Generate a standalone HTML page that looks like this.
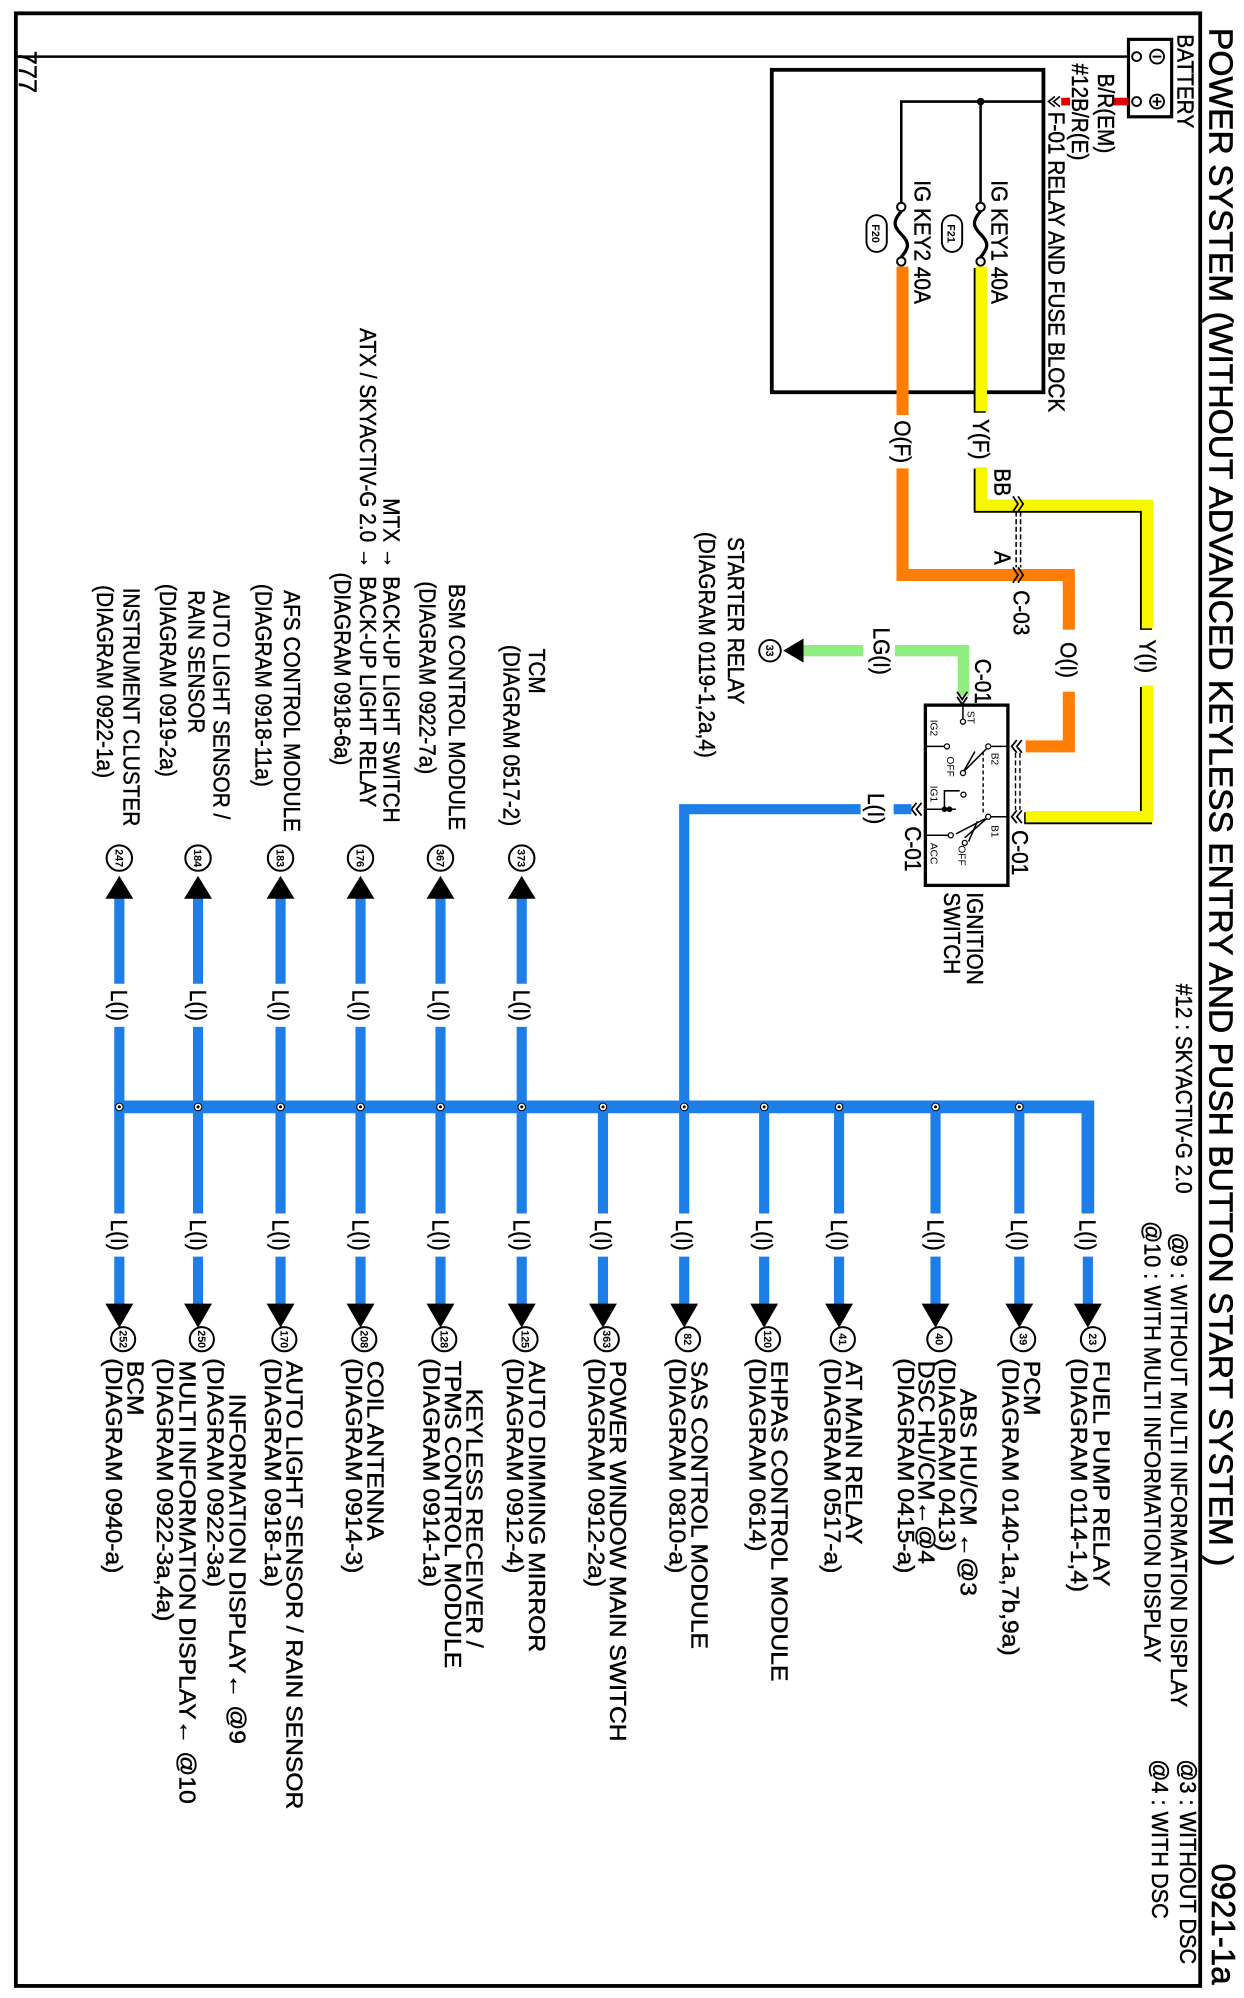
<!DOCTYPE html>
<html><head><meta charset="utf-8"><style>
html,body{margin:0;padding:0;background:#fff;}
svg{display:block;}
.t{font-family:"Liberation Sans",Arial,sans-serif;font-size:18px;fill:#000;stroke:#000;stroke-width:0.35px;}
.s{font-family:"Liberation Sans",Arial,sans-serif;font-size:8px;fill:#000;}
.n{font-family:"Liberation Sans",Arial,sans-serif;font-size:8.5px;font-weight:bold;fill:#000;}
</style></head><body>
<svg width="1244" height="1998" viewBox="0 0 980 1574" xmlns="http://www.w3.org/2000/svg">
<rect x="0" y="0" width="980" height="1574" fill="#fff"/>
<rect x="12.5" y="10.5" width="933" height="1554" fill="none" stroke="#000" stroke-width="3"/>
<text class="t" style="font-size:26px;stroke-width:0.5px" transform="translate(952.7,22) rotate(90)" textLength="1212" lengthAdjust="spacingAndGlyphs">POWER SYSTEM (WITHOUT ADVANCED KEYLESS ENTRY AND PUSH BUTTON START SYSTEM )</text>
<text class="t" style="font-size:26px;stroke-width:0.5px" transform="translate(954.7,1468) rotate(90)">0921-1a</text>
<text class="t" style="font-size:20px" transform="translate(15,40) rotate(90)">777</text>

<line x1="12" y1="44.6" x2="891" y2="44.6" stroke="#000" stroke-width="2"/>
<rect x="889" y="31" width="34" height="61" fill="#fff" stroke="#000" stroke-width="2.5"/>
<circle cx="895.4" cy="44.6" r="3.5" fill="#fff" stroke="#000" stroke-width="1.5"/>
<circle cx="895.4" cy="80" r="3.5" fill="#fff" stroke="#000" stroke-width="1.5"/>
<circle cx="911.5" cy="44.6" r="5.5" fill="#fff" stroke="#000" stroke-width="1.5"/>
<line x1="908" y1="44.6" x2="915" y2="44.6" stroke="#000" stroke-width="1.5"/>
<circle cx="911.5" cy="80" r="5.5" fill="#fff" stroke="#000" stroke-width="1.5"/>
<line x1="908" y1="80" x2="915" y2="80" stroke="#000" stroke-width="1.5"/>
<line x1="911.5" y1="76.5" x2="911.5" y2="83.5" stroke="#000" stroke-width="1.5"/>
<text class="t" transform="translate(927.6,27) rotate(90) scale(.91,1)">BATTERY</text>
<rect x="877" y="77" width="12" height="6" fill="#e00000"/>
<rect x="836" y="77" width="7" height="6" fill="#e00000"/>
<polyline points="831,76 826,80 831,84" fill="none" stroke="#000" stroke-width="1.3"/>
<polyline points="835,76 830,80 835,84" fill="none" stroke="#000" stroke-width="1.3"/>
<text class="t" transform="translate(865.1,58) rotate(90) scale(.91,1)">B/R(EM)</text>
<text class="t" transform="translate(844.6,50) rotate(90) scale(.91,1)">#12B/R(E)</text>
<text class="t" transform="translate(826.1,88) rotate(90) scale(.91,1)">F-01  RELAY AND FUSE BLOCK</text>

<rect x="608" y="55" width="214" height="254" fill="none" stroke="#000" stroke-width="3"/>
<polyline points="822,80 710,80 710,160" fill="none" stroke="#000" stroke-width="2"/>
<line x1="772.5" y1="80" x2="772.5" y2="160" stroke="#000" stroke-width="2"/>
<circle cx="772.5" cy="80" r="3" fill="#000"/>
<circle cx="772.5" cy="163" r="3.3" fill="#fff" stroke="#000" stroke-width="1.6"/>
<circle cx="772.5" cy="206" r="3.3" fill="#fff" stroke="#000" stroke-width="1.6"/>
<path d="M772.5,166.5 C766,174 766,178 772.5,184.5 C779,191 779,195 772.5,202.5" fill="none" stroke="#000" stroke-width="2.6"/>
<circle cx="710" cy="163" r="3.3" fill="#fff" stroke="#000" stroke-width="1.6"/>
<circle cx="710" cy="206" r="3.3" fill="#fff" stroke="#000" stroke-width="1.6"/>
<path d="M710,166.5 C703.5,174 703.5,178 710,184.5 C716.5,191 716.5,195 710,202.5" fill="none" stroke="#000" stroke-width="2.6"/>
<rect x="742" y="169.5" width="16" height="29" rx="8" fill="#fff" stroke="#000" stroke-width="1.5"/>
<text class="n" transform="translate(746.5,184) rotate(90)" text-anchor="middle">F21</text>
<rect x="682.6" y="169.5" width="16" height="29" rx="8" fill="#fff" stroke="#000" stroke-width="1.5"/>
<text class="n" transform="translate(687.1,184) rotate(90)" text-anchor="middle">F20</text>
<text class="t" transform="translate(781.1,142) rotate(90) scale(.91,1)">IG KEY1 40A</text>
<text class="t" transform="translate(720.6,142) rotate(90) scale(.91,1)">IG KEY2 40A</text>

<g transform="translate(-1.2,1.2)" fill="none" stroke="#000" stroke-width="9.5">
<path d="M773,210 V324"/><path d="M773,368 V398 H904 V495"/><path d="M904,540 V643.4 H808"/>
</g>
<g fill="none" stroke="#f7f700" stroke-width="9" stroke-linejoin="miter">
<path d="M773,210 V324"/><path d="M773,368 V398 H904 V495"/><path d="M904,540 V643.4 H808"/>
</g>
<g fill="none" stroke="#ff7d00" stroke-width="9.5">
<path d="M711,210 V327"/><path d="M711,369 V453 H842 V496"/><path d="M842,545 V588 H808"/>
</g>
<text class="t" transform="translate(766.6,346) rotate(90) scale(.91,1)" text-anchor="middle">Y(F)</text>
<text class="t" transform="translate(704.6,348) rotate(90) scale(.91,1)" text-anchor="middle">O(F)</text>
<text class="t" transform="translate(897.6,517) rotate(90) scale(.91,1)" text-anchor="middle">Y(I)</text>
<text class="t" transform="translate(835.6,520) rotate(90) scale(.91,1)" text-anchor="middle">O(I)</text>
<polyline points="798,391 802,397 798,403" fill="none" stroke="#000" stroke-width="1.4"/>
<polyline points="802,391 806,397 802,403" fill="none" stroke="#000" stroke-width="1.4"/>
<polyline points="798,447 802,453 798,459" fill="none" stroke="#000" stroke-width="1.4"/>
<polyline points="802,447 806,453 802,459" fill="none" stroke="#000" stroke-width="1.4"/>
<line x1="800.5" y1="403" x2="800.5" y2="447" stroke="#000" stroke-width="1.2" stroke-dasharray="4,2"/>
<line x1="804" y1="403" x2="804" y2="447" stroke="#000" stroke-width="1.2" stroke-dasharray="4,2"/>
<text class="t" transform="translate(783.6,369) rotate(90) scale(.91,1)">BB</text>
<text class="t" transform="translate(783.6,434) rotate(90) scale(.91,1)">A</text>
<text class="t" transform="translate(798.6,465) rotate(90) scale(.91,1)">C-03</text>

<g fill="none" stroke="#90ee80" stroke-width="9">
<path d="M759,548 V512.6 H705"/><path d="M680,512.6 H632"/>
</g>
<polygon points="633,503 633,522 617,512.6" fill="#000"/>
<circle cx="606.6" cy="512.6" r="8.5" fill="#fff" stroke="#000" stroke-width="1.5"/>
<text class="n" transform="translate(603.4,512.6) rotate(90)" text-anchor="middle">33</text>
<text class="t" transform="translate(688.1,513) rotate(90) scale(.91,1)" text-anchor="middle">LG(I)</text>
<text class="t" transform="translate(573.6,423) rotate(90) scale(.91,1)">STARTER RELAY</text>
<text class="t" transform="translate(550.6,419) rotate(90) scale(.91,1)">(DIAGRAM  0119-1,2a,4)</text>

<rect x="729" y="555.5" width="65" height="142" fill="#fff" stroke="#000" stroke-width="2.6"/>
<polyline points="754,545 758,551 762,545" fill="none" stroke="#000" stroke-width="1.4"/>
<polyline points="754,549 758,555 762,549" fill="none" stroke="#000" stroke-width="1.4"/>
<line x1="758.6" y1="556" x2="758.6" y2="566" stroke="#000" stroke-width="1.2"/>
<circle cx="758.6" cy="568.5" r="2" fill="#fff" stroke="#000" stroke-width="1"/>
<text class="s" transform="translate(762,560) rotate(90)">ST</text>
<text class="s" transform="translate(733,567) rotate(90)">IG2</text>
<line x1="730" y1="588" x2="744" y2="588" stroke="#000" stroke-width="1.2"/>
<circle cx="746" cy="588" r="2" fill="#fff" stroke="#000" stroke-width="1"/>
<line x1="794" y1="588" x2="780.5" y2="588" stroke="#000" stroke-width="1.2"/>
<circle cx="778.5" cy="588" r="2" fill="#fff" stroke="#000" stroke-width="1"/>
<line x1="777" y1="590" x2="759" y2="608" stroke="#000" stroke-width="1.2"/>
<line x1="768" y1="592" x2="759" y2="608" stroke="#000" stroke-width="1.2"/>
<circle cx="758.6" cy="609" r="2" fill="#fff" stroke="#000" stroke-width="1"/>
<text class="s" transform="translate(781,593) rotate(90)">B2</text>
<text class="s" transform="translate(746,596) rotate(90)">OFF</text>
<line x1="774.5" y1="592" x2="774.5" y2="641" stroke="#000" stroke-width="1.1" stroke-dasharray="3,2"/>
<text class="s" transform="translate(733,619) rotate(90)">IG1</text>
<polyline points="744,636 744,623 756,623" fill="none" stroke="#000" stroke-width="1.2"/>
<circle cx="759" cy="626" r="2" fill="#fff" stroke="#000" stroke-width="1"/>
<line x1="730" y1="637.5" x2="753" y2="637.5" stroke="#000" stroke-width="1.2"/>
<circle cx="744" cy="637.5" r="2.2" fill="#000"/>
<circle cx="748" cy="637.5" r="2.2" fill="#000"/>
<line x1="794" y1="643.4" x2="780.5" y2="643.4" stroke="#000" stroke-width="1.2"/>
<circle cx="778.5" cy="643.4" r="2" fill="#fff" stroke="#000" stroke-width="1"/>
<line x1="777" y1="645" x2="760" y2="660" stroke="#000" stroke-width="1.2"/>
<line x1="776" y1="645" x2="753" y2="657" stroke="#000" stroke-width="1.2"/>
<line x1="770" y1="647" x2="763" y2="663" stroke="#000" stroke-width="1.2"/>
<text class="s" transform="translate(781,650) rotate(90)">B1</text>
<line x1="730" y1="658" x2="747" y2="658" stroke="#000" stroke-width="1.2"/>
<circle cx="749" cy="658" r="2" fill="#fff" stroke="#000" stroke-width="1"/>
<circle cx="760" cy="664" r="2" fill="#fff" stroke="#000" stroke-width="1"/>
<text class="s" transform="translate(733,664) rotate(90)">ACC</text>
<text class="s" transform="translate(755,666) rotate(90)">OFF</text>
<polyline points="801,583 797,588 801,593" fill="none" stroke="#000" stroke-width="1.4"/>
<polyline points="805,583 801,588 805,593" fill="none" stroke="#000" stroke-width="1.4"/>
<polyline points="801,638.4 797,643.4 801,648.4" fill="none" stroke="#000" stroke-width="1.4"/>
<polyline points="805,638.4 801,643.4 805,648.4" fill="none" stroke="#000" stroke-width="1.4"/>
<line x1="800" y1="593" x2="800" y2="638" stroke="#000" stroke-width="1.1" stroke-dasharray="4,2"/>
<line x1="803.5" y1="593" x2="803.5" y2="638" stroke="#000" stroke-width="1.1" stroke-dasharray="4,2"/>
<polyline points="722,632.5 718,637.5 722,642.5" fill="none" stroke="#000" stroke-width="1.4"/>
<polyline points="726,632.5 722,637.5 726,642.5" fill="none" stroke="#000" stroke-width="1.4"/>
<text class="t" transform="translate(768.2,519) rotate(90) scale(.91,1)">C-01</text>
<text class="t" transform="translate(797.2,654) rotate(90) scale(.91,1)">C-01</text>
<text class="t" transform="translate(713.1,651) rotate(90) scale(.91,1)">C-01</text>
<text class="t" transform="translate(761.6,703) rotate(90) scale(.91,1)">IGNITION</text>
<text class="t" transform="translate(743.6,703) rotate(90) scale(.91,1)">SWITCH</text>

<g fill="none" stroke="#1e7ee8">
<path d="M718,637.5 H704" stroke-width="8"/>
<path d="M678,637.5 H539 V872" stroke-width="8"/>
<path d="M90,872 H857 V956" stroke-width="10"/>
</g>
<text class="t" transform="translate(683.6,637) rotate(90) scale(.91,1)" text-anchor="middle">L(I)</text>

<text class="t" transform="translate(926.6,775) rotate(90) scale(.91,1)">#12 : SKYACTIV-G 2.0</text>
<text class="t" transform="translate(922.6,971) rotate(90) scale(.95,1)">@9 : WITHOUT MULTI INFORMATION DISPLAY</text>
<text class="t" transform="translate(901.6,962) rotate(90) scale(.95,1)">@10 : WITH MULTI INFORMATION DISPLAY</text>
<text class="t" transform="translate(929.6,1386) rotate(90) scale(.95,1)">@3 : WITHOUT DSC</text>
<text class="t" transform="translate(907.6,1386) rotate(90) scale(.95,1)">@4 : WITH DSC</text>

<g fill="none" stroke="#1e7ee8" stroke-width="8">
<path d="M94,872 V809 M94,775 V706"/>
<path d="M156,872 V809 M156,775 V706"/>
<path d="M221,872 V809 M221,775 V706"/>
<path d="M284,872 V809 M284,775 V706"/>
<path d="M347,872 V809 M347,775 V706"/>
<path d="M411,872 V809 M411,775 V706"/>
</g>
<g fill="#000">
<polygon points="83,708 105,708 94,690"/>
<polygon points="145,708 167,708 156,690"/>
<polygon points="210,708 232,708 221,690"/>
<polygon points="273,708 295,708 284,690"/>
<polygon points="336,708 358,708 347,690"/>
<polygon points="400,708 422,708 411,690"/>
</g>
<g fill="#fff" stroke="#000" stroke-width="1.6">
<circle cx="94" cy="676" r="10"/><circle cx="156" cy="676" r="10"/><circle cx="221" cy="676" r="10"/>
<circle cx="284" cy="676" r="10"/><circle cx="347" cy="676" r="10"/><circle cx="411" cy="676" r="10"/>
</g>
<text class="n" transform="translate(90.8,676) rotate(90)" text-anchor="middle">247</text>
<text class="n" transform="translate(152.8,676) rotate(90)" text-anchor="middle">184</text>
<text class="n" transform="translate(217.8,676) rotate(90)" text-anchor="middle">183</text>
<text class="n" transform="translate(280.8,676) rotate(90)" text-anchor="middle">176</text>
<text class="n" transform="translate(343.8,676) rotate(90)" text-anchor="middle">367</text>
<text class="n" transform="translate(407.8,676) rotate(90)" text-anchor="middle">373</text>
<g>
<text class="t" transform="translate(87.6,792) rotate(90) scale(.91,1)" text-anchor="middle">L(I)</text>
<text class="t" transform="translate(149.6,792) rotate(90) scale(.91,1)" text-anchor="middle">L(I)</text>
<text class="t" transform="translate(214.6,792) rotate(90) scale(.91,1)" text-anchor="middle">L(I)</text>
<text class="t" transform="translate(277.6,792) rotate(90) scale(.91,1)" text-anchor="middle">L(I)</text>
<text class="t" transform="translate(340.6,792) rotate(90) scale(.91,1)" text-anchor="middle">L(I)</text>
<text class="t" transform="translate(404.6,792) rotate(90) scale(.91,1)" text-anchor="middle">L(I)</text>
</g>
<text class="t" transform="translate(416.6,511) rotate(90) scale(.91,1)">TCM</text>
<text class="t" transform="translate(396.6,508) rotate(90) scale(.91,1)">(DIAGRAM  0517-2)</text>
<text class="t" transform="translate(353.6,460) rotate(90) scale(.91,1)">BSM CONTROL MODULE</text>
<text class="t" transform="translate(330.6,458) rotate(90) scale(.91,1)">(DIAGRAM  0922-7a)</text>
<text class="t" transform="translate(302.1,448) rotate(90) scale(.91,1)" text-anchor="end">MTX →</text>
<text class="t" transform="translate(302.1,454) rotate(90) scale(.91,1)">BACK-UP LIGHT SWITCH</text>
<text class="t" transform="translate(283.6,448) rotate(90) scale(.91,1)" text-anchor="end">ATX / SKYACTIV-G 2.0 →</text>
<text class="t" transform="translate(283.6,454) rotate(90) scale(.91,1)">BACK-UP LIGHT RELAY</text>
<text class="t" transform="translate(263.6,451) rotate(90) scale(.91,1)">(DIAGRAM  0918-6a)</text>
<text class="t" transform="translate(223.6,465) rotate(90) scale(.91,1)">AFS CONTROL MODULE</text>
<text class="t" transform="translate(201.1,460) rotate(90) scale(.91,1)">(DIAGRAM  0918-11a)</text>
<text class="t" transform="translate(168.2,465) rotate(90) scale(.91,1)">AUTO LIGHT SENSOR /</text>
<text class="t" transform="translate(148.6,465) rotate(90) scale(.91,1)">RAIN SENSOR</text>
<text class="t" transform="translate(126.2,460) rotate(90) scale(.91,1)">(DIAGRAM  0919-2a)</text>
<text class="t" transform="translate(97.3,463) rotate(90) scale(.91,1)">INSTRUMENT CLUSTER</text>
<text class="t" transform="translate(76.3,461) rotate(90) scale(.91,1)">(DIAGRAM  0922-1a)</text>

<g fill="none" stroke="#1e7ee8" stroke-width="8">
<path d="M94,872 V956 M94,990 V1030"/>
<path d="M156,872 V956 M156,990 V1030"/>
<path d="M221,872 V956 M221,990 V1030"/>
<path d="M284,872 V956 M284,990 V1030"/>
<path d="M347,872 V956 M347,990 V1030"/>
<path d="M411,872 V956 M411,990 V1030"/>
<path d="M475,872 V956 M475,990 V1030"/>
<path d="M539,872 V956 M539,990 V1030"/>
<path d="M602,872 V956 M602,990 V1030"/>
<path d="M661,872 V956 M661,990 V1030"/>
<path d="M737,872 V956 M737,990 V1030"/>
<path d="M803,872 V956 M803,990 V1030"/>
<path d="M857,990 V1030"/>
</g>
<g fill="#fff" stroke="#000" stroke-width="0.8">
<circle cx="94" cy="872" r="3"/><circle cx="156" cy="872" r="3"/><circle cx="221" cy="872" r="3"/>
<circle cx="284" cy="872" r="3"/><circle cx="347" cy="872" r="3"/><circle cx="411" cy="872" r="3"/>
<circle cx="475" cy="872" r="3"/><circle cx="539" cy="872" r="3"/><circle cx="602" cy="872" r="3"/>
<circle cx="661" cy="872" r="3"/><circle cx="737" cy="872" r="3"/><circle cx="803" cy="872" r="3"/>
</g>
<g fill="#000">
<circle cx="94" cy="872" r="1.2"/><circle cx="156" cy="872" r="1.2"/><circle cx="221" cy="872" r="1.2"/>
<circle cx="284" cy="872" r="1.2"/><circle cx="347" cy="872" r="1.2"/><circle cx="411" cy="872" r="1.2"/>
<circle cx="475" cy="872" r="1.2"/><circle cx="539" cy="872" r="1.2"/><circle cx="602" cy="872" r="1.2"/>
<circle cx="661" cy="872" r="1.2"/><circle cx="737" cy="872" r="1.2"/><circle cx="803" cy="872" r="1.2"/>
</g>
<g fill="#000">
<polygon points="83,1027 105,1027 94,1046"/>
<polygon points="145,1027 167,1027 156,1046"/>
<polygon points="210,1027 232,1027 221,1046"/>
<polygon points="273,1027 295,1027 284,1046"/>
<polygon points="336,1027 358,1027 347,1046"/>
<polygon points="400,1027 422,1027 411,1046"/>
<polygon points="464,1027 486,1027 475,1046"/>
<polygon points="528,1027 550,1027 539,1046"/>
<polygon points="591,1027 613,1027 602,1046"/>
<polygon points="650,1027 672,1027 661,1046"/>
<polygon points="726,1027 748,1027 737,1046"/>
<polygon points="792,1027 814,1027 803,1046"/>
<polygon points="846,1027 868,1027 857,1046"/>
</g>
<g fill="#fff" stroke="#000" stroke-width="1.6">
<circle cx="97" cy="1055" r="9.5"/><circle cx="159" cy="1055" r="9.5"/><circle cx="224" cy="1055" r="9.5"/>
<circle cx="287" cy="1055" r="9.5"/><circle cx="350" cy="1055" r="9.5"/><circle cx="414" cy="1055" r="9.5"/>
<circle cx="478" cy="1055" r="9.5"/><circle cx="542" cy="1055" r="9.5"/><circle cx="605" cy="1055" r="9.5"/>
<circle cx="664" cy="1055" r="9.5"/><circle cx="740" cy="1055" r="9.5"/><circle cx="806" cy="1055" r="9.5"/>
<circle cx="861" cy="1055" r="9.5"/>
</g>
<text class="n" transform="translate(94,1055) rotate(90)" text-anchor="middle">252</text>
<text class="n" transform="translate(156,1055) rotate(90)" text-anchor="middle">250</text>
<text class="n" transform="translate(221,1055) rotate(90)" text-anchor="middle">170</text>
<text class="n" transform="translate(284,1055) rotate(90)" text-anchor="middle">208</text>
<text class="n" transform="translate(347,1055) rotate(90)" text-anchor="middle">128</text>
<text class="n" transform="translate(411,1055) rotate(90)" text-anchor="middle">125</text>
<text class="n" transform="translate(475,1055) rotate(90)" text-anchor="middle">363</text>
<text class="n" transform="translate(539,1055) rotate(90)" text-anchor="middle">82</text>
<text class="n" transform="translate(602,1055) rotate(90)" text-anchor="middle">120</text>
<text class="n" transform="translate(661,1055) rotate(90)" text-anchor="middle">41</text>
<text class="n" transform="translate(737,1055) rotate(90)" text-anchor="middle">40</text>
<text class="n" transform="translate(803,1055) rotate(90)" text-anchor="middle">39</text>
<text class="n" transform="translate(858,1055) rotate(90)" text-anchor="middle">23</text>
<g>
<text class="t" transform="translate(87.6,973) rotate(90) scale(.91,1)" text-anchor="middle">L(I)</text>
<text class="t" transform="translate(149.6,973) rotate(90) scale(.91,1)" text-anchor="middle">L(I)</text>
<text class="t" transform="translate(214.6,973) rotate(90) scale(.91,1)" text-anchor="middle">L(I)</text>
<text class="t" transform="translate(277.6,973) rotate(90) scale(.91,1)" text-anchor="middle">L(I)</text>
<text class="t" transform="translate(340.6,973) rotate(90) scale(.91,1)" text-anchor="middle">L(I)</text>
<text class="t" transform="translate(404.6,973) rotate(90) scale(.91,1)" text-anchor="middle">L(I)</text>
<text class="t" transform="translate(468.6,973) rotate(90) scale(.91,1)" text-anchor="middle">L(I)</text>
<text class="t" transform="translate(532.6,973) rotate(90) scale(.91,1)" text-anchor="middle">L(I)</text>
<text class="t" transform="translate(595.6,973) rotate(90) scale(.91,1)" text-anchor="middle">L(I)</text>
<text class="t" transform="translate(654.6,973) rotate(90) scale(.91,1)" text-anchor="middle">L(I)</text>
<text class="t" transform="translate(730.6,973) rotate(90) scale(.91,1)" text-anchor="middle">L(I)</text>
<text class="t" transform="translate(796.6,973) rotate(90) scale(.91,1)" text-anchor="middle">L(I)</text>
<text class="t" transform="translate(850.6,973) rotate(90) scale(.91,1)" text-anchor="middle">L(I)</text>
</g>
<g>
<text class="t" transform="translate(861.6,1072) rotate(90) scale(1.08,1)">FUEL PUMP RELAY</text>
<text class="t" transform="translate(843.6,1070) rotate(90) scale(1.08,1)">(DIAGRAM  0114-1,4)</text>
<text class="t" transform="translate(806.6,1072) rotate(90) scale(1.08,1)">PCM</text>
<text class="t" transform="translate(789.6,1070) rotate(90) scale(1.08,1)">(DIAGRAM  0140-1a,7b,9a)</text>
<text class="t" transform="translate(756.6,1094) rotate(90) scale(1.08,1)">ABS HU/CM ←@3</text>
<text class="t" transform="translate(739.6,1070) rotate(90) scale(1.08,1)">(DIAGRAM  0413)</text>
<text class="t" transform="translate(723.6,1072) rotate(90) scale(1.08,1)">DSC HU/CM←@4</text>
<text class="t" transform="translate(707.6,1070) rotate(90) scale(1.08,1)">(DIAGRAM  0415-a)</text>
<text class="t" transform="translate(666.6,1072) rotate(90) scale(1.08,1)">AT MAIN RELAY</text>
<text class="t" transform="translate(649.6,1070) rotate(90) scale(1.08,1)">(DIAGRAM  0517-a)</text>
<text class="t" transform="translate(607.6,1072) rotate(90) scale(1.08,1)">EHPAS CONTROL MODULE</text>
<text class="t" transform="translate(590.6,1070) rotate(90) scale(1.08,1)">(DIAGRAM  0614)</text>
<text class="t" transform="translate(544.6,1072) rotate(90) scale(1.08,1)">SAS CONTROL MODULE</text>
<text class="t" transform="translate(527.6,1070) rotate(90) scale(1.08,1)">(DIAGRAM  0810-a)</text>
<text class="t" transform="translate(480.6,1072) rotate(90) scale(1.08,1)">POWER WINDOW MAIN SWITCH</text>
<text class="t" transform="translate(463.6,1070) rotate(90) scale(1.08,1)">(DIAGRAM  0912-2a)</text>
<text class="t" transform="translate(416.6,1072) rotate(90) scale(1.08,1)">AUTO DIMMING MIRROR</text>
<text class="t" transform="translate(399.6,1070) rotate(90) scale(1.08,1)">(DIAGRAM  0912-4)</text>
<text class="t" transform="translate(367.6,1094) rotate(90) scale(1.08,1)">KEYLESS RECEIVER /</text>
<text class="t" transform="translate(350.6,1072) rotate(90) scale(1.08,1)">TPMS CONTROL MODULE</text>
<text class="t" transform="translate(333.6,1070) rotate(90) scale(1.08,1)">(DIAGRAM  0914-1a)</text>
<text class="t" transform="translate(289.6,1072) rotate(90) scale(1.08,1)">COIL ANTENNA</text>
<text class="t" transform="translate(272.6,1070) rotate(90) scale(1.08,1)">(DIAGRAM  0914-3)</text>
<text class="t" transform="translate(225.6,1072) rotate(90) scale(1.08,1)">AUTO LIGHT SENSOR / RAIN SENSOR</text>
<text class="t" transform="translate(208.6,1070) rotate(90) scale(1.08,1)">(DIAGRAM  0918-1a)</text>
<text class="t" transform="translate(180.6,1098) rotate(90) scale(1.08,1)">INFORMATION DISPLAY← @9</text>
<text class="t" transform="translate(163.6,1070) rotate(90) scale(1.08,1)">(DIAGRAM  0922-3a)</text>
<text class="t" transform="translate(141.6,1072) rotate(90) scale(1.08,1)">MULTI INFORMATION DISPLAY← @10</text>
<text class="t" transform="translate(123.6,1070) rotate(90) scale(1.08,1)">(DIAGRAM  0922-3a,4a)</text>
<text class="t" transform="translate(100.6,1072) rotate(90) scale(1.08,1)">BCM</text>
<text class="t" transform="translate(83.6,1070) rotate(90) scale(1.08,1)">(DIAGRAM  0940-a)</text>
</g>
</svg>
</body></html>
